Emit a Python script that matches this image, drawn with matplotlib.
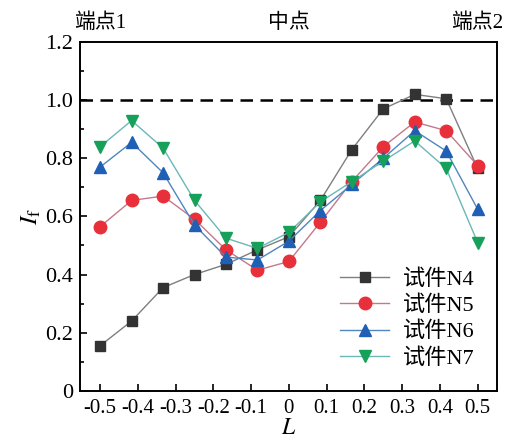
import matplotlib.pyplot as plt
from matplotlib.ticker import MultipleLocator

plt.rcParams['font.family'] = ['Liberation Serif', 'Noto Sans CJK SC']
plt.rcParams['mathtext.fontset'] = 'stix'

L = [-0.5, -0.4167, -0.3333, -0.25, -0.1667, -0.0833, 0, 0.0833, 0.1667, 0.25, 0.3333, 0.4167, 0.5]
n4 = [0.155, 0.24, 0.355, 0.40, 0.435, 0.485, 0.53, 0.655, 0.83, 0.97, 1.02, 1.005, 0.765]
n5 = [0.565, 0.655, 0.67, 0.59, 0.485, 0.415, 0.445, 0.58, 0.72, 0.84, 0.925, 0.895, 0.775]
n6 = [0.77, 0.855, 0.75, 0.57, 0.46, 0.45, 0.515, 0.62, 0.71, 0.80, 0.895, 0.825, 0.625]
n7 = [0.84, 0.93, 0.835, 0.655, 0.525, 0.49, 0.545, 0.65, 0.72, 0.79, 0.86, 0.765, 0.51]
labels = ['试件N4', '试件N5', '试件N6', '试件N7']
top_pos = [-0.5, 0, 0.5]
top_txt = ['端点1', '中点', '端点2']

fig = plt.figure(figsize=(5.14, 4.43), dpi=100)
ax = fig.add_axes([0.156, 0.118, 0.81, 0.787])

ax.axhline(1.0, color='black', ls=(0, (5, 3)), lw=1.8, zorder=1)

series = [
	(n4, 's', '#333333', '#7f7f7f', 7),
	(n5, 'o', '#e8303a', '#c27a8a', 9),
	(n6, '^', '#1f5fb5', '#4f86c0', 8.5),
	(n7, 'v', '#17a05a', '#6ab8b8', 8.5),
]
for (vals, m, fc, lc, ms), lab in zip(series, labels):
	ax.plot(L, vals, color=lc, lw=1, marker=m, ms=ms, mfc=fc, mec=fc, label=lab, zorder=3)

ax.set_xlim(-0.553, 0.55)
ax.set_ylim(0, 1.2)
ax.yaxis.set_minor_locator(MultipleLocator(0.1))
ax.set_xticks([-0.5, -0.4, -0.3, -0.2, -0.1, 0, 0.1, 0.2, 0.3, 0.4, 0.5])
ax.set_xticklabels(['-0.5', '-0.4', '-0.3', '-0.2', '-0.1', '0', '0.1', '0.2', '0.3', '0.4', '0.5'])
ax.set_yticks([0, 0.2, 0.4, 0.6, 0.8, 1.0, 1.2])
ax.set_yticklabels(['0', '0.2', '0.4', '0.6', '0.8', '1.0', '1.2'])
ax.tick_params(direction='in', length=5, width=1.2, top=False, right=False)
ax.tick_params(axis='y', labelsize=16, pad=5)
ax.tick_params(axis='x', labelsize=15, pad=6)
ax.tick_params(which='minor', direction='in', length=3, width=1.2, right=False)
for s in ax.spines.values():
	s.set_linewidth(1.4)

ax.set_xlabel('$L$', fontsize=17, labelpad=0)
ax.set_ylabel('$I_{\\mathrm{f}}$', fontsize=18, labelpad=2)

for x, t in zip(top_pos, top_txt):
	ax.text(x, 1.23, t, ha='center', va='bottom', fontsize=15)

leg = ax.legend(loc='lower right', frameon=False, fontsize=16, handlelength=2.2,
	borderaxespad=0.6, labelspacing=0.25, handletextpad=0.6)

fig.savefig('out.png', dpi=100)
